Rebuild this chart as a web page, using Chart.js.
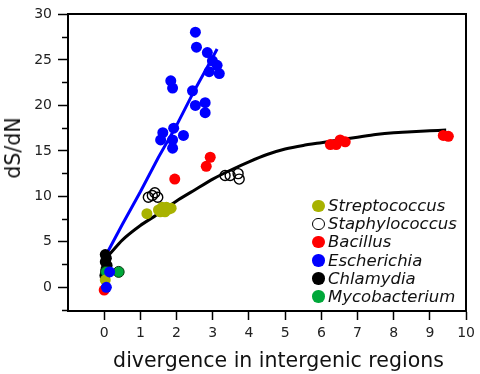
<!DOCTYPE html>
<html>
<head>
<meta charset="utf-8">
<script src="https://cdn.jsdelivr.net/npm/chart.js@4.4.1/dist/chart.umd.min.js"></script>
<style>
  html, body { margin: 0; padding: 0; background: #ffffff; }
  #wrap { position: relative; width: 480px; height: 374px; }
  #legend { position: absolute; left: 310px; top: 197px; font-family: 'DejaVu Sans', sans-serif; font-style: italic; font-size: 16.5px; color: #111; }
  #legend .row { position: relative; height: 18.2px; line-height: 18.2px; padding-left: 18px; white-space: nowrap; }
  #legend .dot { position: absolute; left: 2px; top: 2.5px; width: 12.5px; height: 12.5px; border-radius: 50%; box-sizing: border-box; }
  .axtitle { position: absolute; font-family: 'DejaVu Sans', sans-serif; font-size: 20.5px; line-height: 24px; color: #111; white-space: nowrap; }
  #xtitle { left: 278.5px; top: 348px; transform: translateX(-50%); }
  #ytitle { left: 13px; top: 148px; transform: translate(-50%, -50%) rotate(-90deg); }
</style>
</head>
<body>
<div id="wrap">
  <canvas id="c" width="480" height="374"></canvas>
  <div id="legend"></div>
  <div class="axtitle" id="xtitle"></div>
  <div class="axtitle" id="ytitle"></div>
</div>
<script>
// ---- data ----
const seriesNames = ['Streptococcus', 'Staphylococcus', 'Bacillus', 'Escherichia', 'Chlamydia', 'Mycobacterium'];
const xAxisTitle = 'divergence in intergenic regions';
const yAxisTitle = 'dS/dN';

const streptococcus = [[1.18, 8.1], [1.50, 8.5], [1.60, 8.8], [1.72, 8.8], [1.85, 8.7], [1.55, 8.3], [1.68, 8.3], [1.78, 8.6], [0.03, 0.8]];
const staphylococcus = [[1.22, 9.9], [1.33, 10.1], [1.40, 10.4], [1.48, 9.9], [3.34, 12.3], [3.48, 12.3], [3.70, 12.5], [3.73, 11.9]];
const bacillus = [[0.0, -0.3], [1.95, 11.9], [2.82, 13.3], [2.93, 14.3], [6.25, 15.7], [6.41, 15.7], [6.52, 16.2], [6.66, 16.0], [9.37, 16.7], [9.51, 16.6]];
const escherichia = [[2.52, 28.05], [2.55, 26.4], [2.85, 25.8], [2.99, 24.9], [3.12, 24.4], [2.90, 23.7], [3.18, 23.5],
  [1.84, 22.7], [1.89, 21.9], [2.44, 21.6], [2.52, 20.0], [2.79, 20.3], [2.79, 19.2], [1.92, 17.5], [1.62, 17.0],
  [1.56, 16.2], [1.89, 16.2], [2.19, 16.7], [1.89, 15.3], [0.15, 1.7], [0.06, 0.0]];
const chlamydia = [[0.03, 3.6], [0.06, 3.2], [0.03, 2.8], [0.08, 2.4], [0.05, 2.0], [0.10, 1.7], [0.02, 1.3]];
const mycobacterium = [[0.05, 1.7], [0.40, 1.7]];

// fitted curves
const escherichiaFit = [[0.11, 4.0], [0.5, 6.9], [1.0, 10.5], [1.5, 14.3], [2.0, 17.8], [2.5, 21.7], [3.0, 25.3], [3.12, 26.2]];
const chlamydiaFit = [[0.14, 3.6], [0.5, 5.2], [1.0, 6.8], [1.5, 8.1], [2.0, 9.5], [2.5, 10.7], [3.0, 11.9], [3.5, 12.9],
  [4.0, 13.8], [4.5, 14.6], [5.0, 15.2], [5.5, 15.6], [6.0, 15.9], [6.5, 16.2], [7.0, 16.5], [7.5, 16.8],
  [8.0, 17.0], [8.5, 17.1], [9.0, 17.2], [9.45, 17.3]];

// axis ticks
const xTicks = [0, 1, 2, 3, 4, 5, 6, 7, 8, 9, 10];
const yMajorTicks = [0, 5, 10, 15, 20, 25, 30];
const yMinorTicks = [-2.5, 2.5, 7.5, 12.5, 17.5, 22.5, 27.5];
const xRange = [-1, 10];
const yRange = [-2.6, 30];

// ---- styling ----
const colors = {
  Streptococcus: '#a8b200',
  Staphylococcus: '#000000',
  Bacillus: '#ff0000',
  Escherichia: '#0000ff',
  Chlamydia: '#000000',
  Mycobacterium: '#00a83a'
};
const toPts = a => a.map(p => ({ x: p[0], y: p[1] }));

function pointDs(label, data, order, opts) {
  return Object.assign({
    type: 'scatter', label, data: toPts(data), order,
    pointRadius: 5.5, pointHoverRadius: 5.5,
    backgroundColor: colors[label], borderColor: colors[label], borderWidth: 0,
    yAxisID: 'y', xAxisID: 'x'
  }, opts || {});
}

const datasets = [
  pointDs('Escherichia', escherichia, 1),
  pointDs('Staphylococcus', staphylococcus, 2, { backgroundColor: 'rgba(0,0,0,0)', borderColor: '#000', borderWidth: 1.4, pointRadius: 5 }),
  pointDs('Streptococcus', streptococcus, 3),
  pointDs('Bacillus', bacillus, 4),
  pointDs('Mycobacterium', mycobacterium, 5, { borderColor: '#0a3a10', borderWidth: 1 }),
  pointDs('Chlamydia', chlamydia, 6),
  { type: 'line', label: 'Escherichia fit', data: toPts(escherichiaFit), order: 20, showLine: true,
    borderColor: '#0000ff', borderWidth: 3, pointRadius: 0, fill: false, tension: 0, yAxisID: 'y', xAxisID: 'x' },
  { type: 'line', label: 'Chlamydia fit', data: toPts(chlamydiaFit), order: 21, showLine: true,
    borderColor: '#000000', borderWidth: 3, pointRadius: 0, fill: false, tension: 0.2, yAxisID: 'y', xAxisID: 'x' }
];

Chart.defaults.font.family = "'DejaVu Sans', sans-serif";
Chart.defaults.color = '#222';

const setTicks = list => (scale => { scale.ticks = list.map(v => ({ value: v })); });

new Chart(document.getElementById('c'), {
  type: 'scatter',
  data: { datasets },
  options: {
    responsive: false,
    devicePixelRatio: 1,
    animation: false,
    events: [],
    layout: { padding: { top: 10, right: 10, left: 0, bottom: 0 } },
    plugins: { legend: { display: false }, tooltip: { enabled: false } },
    scales: {
      x: {
        type: 'linear', position: 'bottom', min: xRange[0], max: xRange[1],
        afterBuildTicks: setTicks(xTicks),
        afterFit: s => { s.height = 63; },
        grid: { display: true, drawOnChartArea: false, drawTicks: true, tickLength: 9, tickColor: '#000', tickWidth: 1.5 },
        border: { display: true, color: '#000', width: 2 },
        ticks: { font: { size: 14 }, color: '#222', padding: 5, maxRotation: 0, autoSkip: false },
        title: { display: false }
      },
      y: {
        type: 'linear', position: 'left', weight: 1, min: yRange[0], max: yRange[1],
        afterBuildTicks: setTicks(yMajorTicks),
        afterFit: s => { s.width = 68; },
        grid: { display: true, drawOnChartArea: false, drawTicks: true, tickLength: 10, tickColor: '#000', tickWidth: 1.5 },
        border: { display: true, color: '#000', width: 2 },
        ticks: { font: { size: 14 }, color: '#222', padding: 6, autoSkip: false },
        title: { display: false }
      },
      yMinor: {
        type: 'linear', position: 'left', weight: 0, min: yRange[0], max: yRange[1],
        afterBuildTicks: setTicks(yMinorTicks),
        afterFit: s => { s.width = 0; },
        grid: { display: true, drawOnChartArea: false, drawTicks: true, tickLength: 6, tickColor: '#000', tickWidth: 1.5 },
        border: { display: false },
        ticks: { display: false }
      },
      xTop: {
        type: 'linear', position: 'top', min: xRange[0], max: xRange[1],
        afterFit: s => { s.height = 0; },
        grid: { display: true, drawOnChartArea: false, drawTicks: false },
        border: { display: true, color: '#000', width: 2 },
        ticks: { display: false }
      },
      yRight: {
        type: 'linear', position: 'right', min: yRange[0], max: yRange[1],
        afterFit: s => { s.width = 0; },
        grid: { display: true, drawOnChartArea: false, drawTicks: false },
        border: { display: true, color: '#000', width: 2 },
        ticks: { display: false }
      }
    }
  }
});

// axis titles (HTML text)
document.getElementById('xtitle').textContent = xAxisTitle;
document.getElementById('ytitle').textContent = yAxisTitle;

// legend (HTML text)
const legend = document.getElementById('legend');
seriesNames.forEach(name => {
  const row = document.createElement('div');
  row.className = 'row';
  const dot = document.createElement('span');
  dot.className = 'dot';
  if (name === 'Staphylococcus') {
    dot.style.border = '1.5px solid #000';
    dot.style.background = 'transparent';
  } else {
    dot.style.background = colors[name];
  }
  row.appendChild(dot);
  row.appendChild(document.createTextNode(name));
  legend.appendChild(row);
});
</script>
</body>
</html>
